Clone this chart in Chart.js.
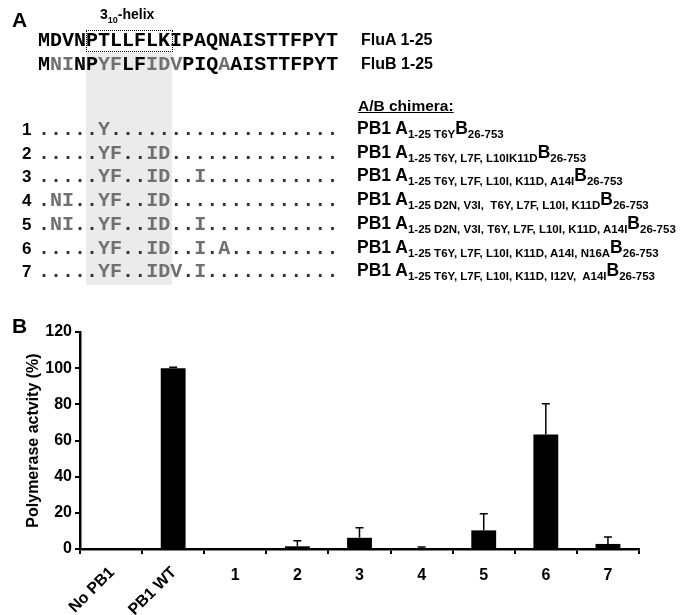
<!DOCTYPE html>
<html>
<head>
<meta charset="utf-8">
<script src="https://cdn.jsdelivr.net/npm/chart.js@4"></script>
<style>
  body { margin: 0; background: #fff; }
  #wrap { position: relative; width: 681px; height: 615px; overflow: hidden; }
  #chart { position: absolute; left: 0; top: 0; }
  .t { position: absolute; white-space: pre; font-family: "Liberation Sans", Arial, sans-serif; font-weight: bold; color: #000; }
  .seq { position: absolute; white-space: pre; font-family: "Liberation Mono", "Courier New", monospace; font-weight: bold; font-size: 20px; line-height: 24px; left: 38px; }
  .chim sub { font-size: 11.5px; vertical-align: baseline; position: relative; top: 4px; }
</style>
</head>
<body>
<div id="wrap">
  <canvas id="chart" width="681" height="615"></canvas>
  <div id="panelA"></div>
</div>
<script>
// パネルB: 棒グラフのデータ
const categories = ['No PB1', 'PB1 WT', '1', '2', '3', '4', '5', '6', '7'];
const activity = [0, 100, 0.3, 1.5, 6.2, 0.5, 10.3, 63.3, 2.8];
const errors = [0, 0.5, 0, 3.0, 5.5, 0.6, 9.2, 17.0, 3.8];
const yTicks = [0, 20, 40, 60, 80, 100, 120];

// パネルA: 配列アラインメント
const fluA = 'MDVNPTLLFLKIPAQNAISTTFPYT';
const fluB = 'MNINPYFLFIDVPIQAAISTTFPYT';
const fluBGrey = [1, 2, 5, 6, 9, 10, 11, 15]; // 灰色で表示する位置
const rowSeqs = [
    '.....Y...................',
    '.....YF..ID..............',
    '.....YF..ID..I...........',
    '.NI..YF..ID..............',
    '.NI..YF..ID..I...........',
    '.....YF..ID..I.A.........',
    '.....YF..IDV.I...........'
];
const chimeraMut = [
    '1-25 T6Y',
    '1-25 T6Y, L7F, L10IK11D',
    '1-25 T6Y, L7F, L10I, K11D, A14I',
    '1-25 D2N, V3I,  T6Y, L7F, L10I, K11D',
    '1-25 D2N, V3I, T6Y, L7F, L10I, K11D, A14I',
    '1-25 T6Y, L7F, L10I, K11D, A14I, N16A',
    '1-25 T6Y, L7F, L10I, K11D, I12V,  A14I'
];

// パネルAをHTMLで組み立て
function buildPanelA() {
    const p = document.getElementById('panelA');
    let html = '';
    // 灰色の網掛け
    html += '<div style="position:absolute;left:86px;top:52px;width:86px;height:233px;background:#ebebeb;"></div>';
    // 3-10 helix の点線枠
    html += '<div style="position:absolute;left:86px;top:30px;width:85px;height:20px;border:1.5px dotted #000;"></div>';
    html += '<div class="t" style="left:12px;top:8px;font-size:21px;">A</div>';
    html += '<div class="t" style="left:100px;top:6px;font-size:14px;">3<sub style="font-size:9px;">10</sub>-helix</div>';
    html += `<div class="seq" style="top:29px;">${fluA}</div>`;
    let b = '';
    for (let i = 0; i < fluB.length; i++) {
        b += fluBGrey.includes(i) ? `<span style="color:#707070">${fluB[i]}</span>` : fluB[i];
    }
    html += `<div class="seq" style="top:53px;">${b}</div>`;
    html += '<div class="t" style="left:361px;top:31px;font-size:16px;">FluA 1-25</div>';
    html += '<div class="t" style="left:361px;top:55px;font-size:16px;">FluB 1-25</div>';
    html += '<div class="t" style="left:358px;top:97px;font-size:15.5px;text-decoration:underline;">A/B chimera:</div>';

    rowSeqs.forEach((s, i) => {
        const y = 131 + i * 23.7;
        html += `<div class="t" style="left:22px;top:${y - 11}px;font-size:17px;">${i + 1}</div>`;
        let r = '';
        for (const c of s) {
            r += c === '.' ? `<span style="color:#333">.</span>` : `<span style="color:#707070">${c}</span>`;
        }
        html += `<div class="seq" style="top:${y - 13}px;">${r}</div>`;
        html += `<div class="t chim" style="left:357px;top:${y - 13}px;font-size:17.5px;">PB1 A<sub>${chimeraMut[i]}</sub>B<sub>26-753</sub></div>`;
    });
    html += '<div class="t" style="left:12px;top:314px;font-size:21px;">B</div>';
    p.innerHTML = html;
}

// エラーバーと回転ラベルを描くプラグイン
const extrasPlugin = {
    id: 'extras',
    afterDatasetsDraw(chart) {
        const ctx = chart.ctx;
        const y = chart.scales.y;
        const meta = chart.getDatasetMeta(0);
        ctx.save();
        ctx.strokeStyle = '#000';
        ctx.lineWidth = 1.5;
        meta.data.forEach((bar, i) => {
            if (!errors[i]) return;
            const y0 = y.getPixelForValue(activity[i]);
            const y1 = y.getPixelForValue(activity[i] + errors[i]);
            ctx.beginPath();
            ctx.moveTo(bar.x, y0);
            ctx.lineTo(bar.x, y1);
            ctx.moveTo(bar.x - 4, y1);
            ctx.lineTo(bar.x + 4, y1);
            ctx.stroke();
        });
        ctx.restore();
    },
    afterDraw(chart) {
        const ctx = chart.ctx;
        const x = chart.scales.x;
        ctx.save();
        ctx.font = 'bold 16px "Liberation Sans", Arial, sans-serif';
        ctx.fillStyle = '#000';
        ctx.textAlign = 'right';
        ctx.textBaseline = 'middle';
        [0, 1].forEach(i => {
            const px = x.getPixelForValue(i);
            ctx.save();
            ctx.translate(px + 1, 570);
            ctx.rotate(-Math.PI / 4);
            ctx.fillText(categories[i], 0, 0);
            ctx.restore();
        });
        ctx.restore();
    }
};

function drawChart() {
    const ctx = document.getElementById('chart').getContext('2d');
    new Chart(ctx, {
        type: 'bar',
        data: {
            labels: categories,
            datasets: [{
                data: activity,
                backgroundColor: '#000',
                borderWidth: 0,
                barPercentage: 0.4,
                categoryPercentage: 1.0
            }]
        },
        options: {
            responsive: false,
            animation: false,
            layout: { padding: { top: 332, right: 42, bottom: 0, left: 0 } },
            plugins: { legend: { display: false }, tooltip: { enabled: false } },
            scales: {
                x: {
                    grid: { drawOnChartArea: false, drawTicks: true, tickLength: 5, color: '#000', lineWidth: 2, offset: true },
                    border: { color: '#000', width: 2.5 },
                    ticks: {
                        color: '#000',
                        font: { family: '"Liberation Sans", Arial, sans-serif', weight: 'bold', size: 16 },
                        maxRotation: 0, minRotation: 0, padding: 12,
                        callback: (v, i) => i < 2 ? '' : categories[i]
                    },
                    afterFit: s => { s.height = 66; }
                },
                y: {
                    min: 0, max: 120,
                    afterBuildTicks: s => { s.ticks = yTicks.map(v => ({ value: v })); },
                    grid: { drawOnChartArea: false, drawTicks: true, tickLength: 5, color: '#000', lineWidth: 2 },
                    border: { color: '#000', width: 2.5 },
                    ticks: {
                        color: '#000', padding: 3,
                        font: { family: '"Liberation Sans", Arial, sans-serif', weight: 'bold', size: 16 }
                    },
                    title: {
                        display: true, text: 'Polymerase actvity (%)', color: '#000',
                        font: { family: '"Liberation Sans", Arial, sans-serif', weight: 'bold', size: 16 },
                        padding: { top: 24, bottom: 0 }
                    },
                    afterFit: s => { s.width = 80; }
                }
            }
        },
        plugins: [extrasPlugin]
    });
}

buildPanelA();
drawChart();
</script>
</body>
</html>
